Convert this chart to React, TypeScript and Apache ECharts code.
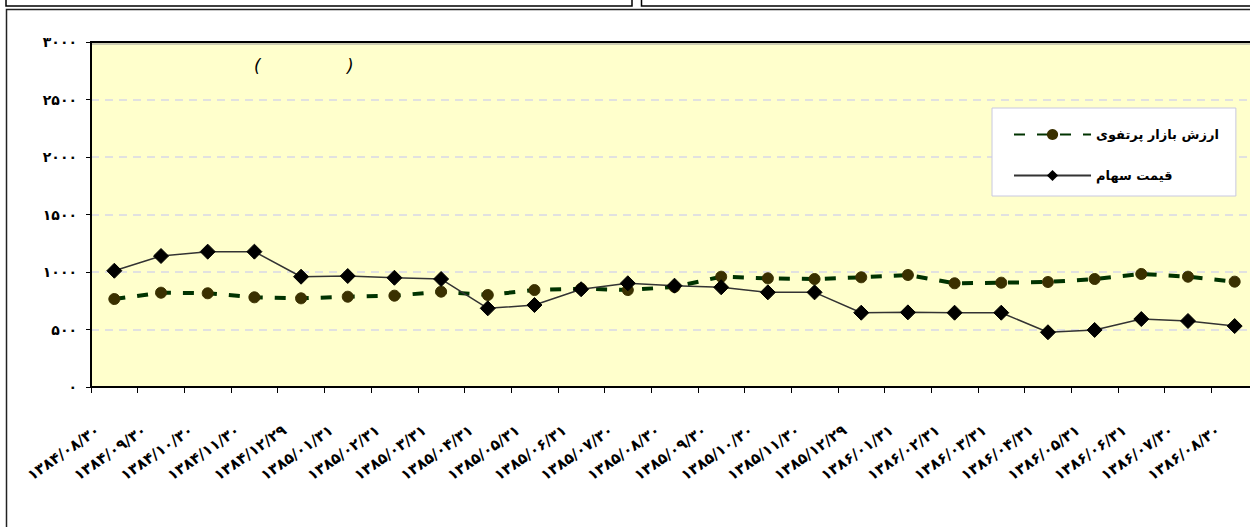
import React, { useEffect, useRef } from "react";
import * as echarts from "echarts";

const categories = [
  "۱۳۸۴/۰۸/۳۰", "۱۳۸۴/۰۹/۳۰", "۱۳۸۴/۱۰/۳۰", "۱۳۸۴/۱۱/۳۰", "۱۳۸۴/۱۲/۲۹",
  "۱۳۸۵/۰۱/۳۱", "۱۳۸۵/۰۲/۳۱", "۱۳۸۵/۰۳/۳۱", "۱۳۸۵/۰۴/۳۱", "۱۳۸۵/۰۵/۳۱",
  "۱۳۸۵/۰۶/۳۱", "۱۳۸۵/۰۷/۳۰", "۱۳۸۵/۰۸/۳۰", "۱۳۸۵/۰۹/۳۰", "۱۳۸۵/۱۰/۳۰",
  "۱۳۸۵/۱۱/۳۰", "۱۳۸۵/۱۲/۲۹", "۱۳۸۶/۰۱/۳۱", "۱۳۸۶/۰۲/۳۱", "۱۳۸۶/۰۳/۳۱",
  "۱۳۸۶/۰۴/۳۱", "۱۳۸۶/۰۵/۳۱", "۱۳۸۶/۰۶/۳۱", "۱۳۸۶/۰۷/۳۰", "۱۳۸۶/۰۸/۳۰",
];

const portfolioName = "ارزش بازار پرتفوی";
const priceName = "قیمت سهام";

const portfolioValues = [
  765, 820, 815, 780, 771, 785, 794, 829, 800, 843, 855, 843, 870,
  959, 945, 939, 954, 974, 902, 907, 913, 939, 983, 959, 916,
];

const priceValues = [
  1011, 1139, 1177, 1177, 959, 965, 950, 939, 684, 713, 850, 902, 881,
  867, 823, 823, 646, 649, 646, 646, 476, 496, 591, 574, 530,
];

const yMin = 0;
const yMax = 3000;
const yInterval = 500;

const faDigits = "۰۱۲۳۴۵۶۷۸۹";
const toFa = (s: string) => s.replace(/[0-9]/g, (d) => faDigits[Number(d)]);

export default function App() {
  const ref = useRef<HTMLDivElement>(null);

  useEffect(() => {
    if (!ref.current) return;
    const chart = echarts.init(ref.current, undefined, { renderer: "svg" });
    const font = "'DejaVu Sans', sans-serif";
    chart.setOption({
      animation: false,
      backgroundColor: "#ffffff",
      textStyle: { fontFamily: font },
      grid: {
        left: 91,
        top: 42,
        width: 1167,
        height: 345,
        outerBoundsMode: "none",
        show: false,
      },
      legend: {
        orient: "vertical",
        left: 992,
        top: 108,
        z: 20,
        padding: [20, 17, 14, 21],
        itemWidth: 77,
        itemHeight: 14,
        itemGap: 28,
        backgroundColor: "#ffffff",
        borderColor: "#c8c8e0",
        borderWidth: 1,
        textStyle: {
          fontFamily: font,
          fontWeight: "bold",
          fontSize: 13,
          color: "#000000",
        },
        data: [portfolioName, priceName],
      },
      xAxis: {
        type: "category",
        data: categories,
        boundaryGap: true,
        z: 5,
        axisLine: { lineStyle: { color: "#000000", width: 2 } },
        axisTick: { show: true, length: 6, lineStyle: { color: "#000000", width: 1 } },
        axisLabel: {
          interval: 0,
          rotate: 35,
          margin: 30,
          padding: [0, 20, 0, 0],
          fontFamily: font,
          fontWeight: "bold",
          fontSize: 15,
          color: "#000000",
        },
        splitLine: { show: false },
      },
      yAxis: {
        type: "value",
        min: yMin,
        max: yMax,
        interval: yInterval,
        z: 5,
        axisLine: { show: true, lineStyle: { color: "#000000", width: 2 } },
        axisTick: { show: true, length: 5, lineStyle: { color: "#000000" } },
        axisLabel: {
          margin: 14,
          fontFamily: font,
          fontWeight: "bold",
          fontSize: 14,
          color: "#000000",
          formatter: (v: number) => toFa(String(v)),
        },
        splitLine: {
          show: true,
          lineStyle: { color: "#d8d8e6", width: 1.5, type: [8, 6] },
        },
      },
      series: [
        {
          name: portfolioName,
          type: "line",
          data: portfolioValues,
          symbol: "circle",
          symbolSize: 11,
          itemStyle: { color: "#3a3000", borderColor: "#3a3000" },
          lineStyle: { color: "#003300", width: 4, type: [11, 12] },
          z: 8,
        },
        {
          name: priceName,
          type: "line",
          data: priceValues,
          symbol: "diamond",
          symbolSize: 15,
          itemStyle: { color: "#000000", borderColor: "#000000" },
          lineStyle: { color: "#333333", width: 1.5, type: "solid" },
          z: 9,
        },
      ],
      graphic: [
        {
          type: "rect",
          silent: true,
          z: -10,
          shape: { x: 91, y: 42, width: 1220, height: 345 },
          style: { fill: "#ffffcc" },
        },
        {
          type: "line",
          silent: true,
          z: 10,
          shape: { x1: 90, y1: 42, x2: 1320, y2: 42 },
          style: { stroke: "#000000", lineWidth: 2 },
        },
        {
          type: "line",
          silent: true,
          z: 10,
          shape: { x1: 92, y1: 44, x2: 1320, y2: 44 },
          style: { stroke: "#9a9a9a", lineWidth: 1 },
        },
        {
          type: "rect",
          silent: true,
          shape: { x: 6, y: -10, width: 626, height: 16 },
          style: { fill: "none", stroke: "#000000", lineWidth: 1.5 },
        },
        {
          type: "rect",
          silent: true,
          shape: { x: 641.5, y: -10, width: 700, height: 16 },
          style: { fill: "none", stroke: "#000000", lineWidth: 1.5 },
        },
        {
          type: "rect",
          silent: true,
          shape: { x: 6.5, y: 9.5, width: 1320, height: 600 },
          style: { fill: "none", stroke: "#222222", lineWidth: 1.5 },
        },
        {
          type: "text",
          silent: true,
          x: 254,
          y: 57,
          style: { text: "(", font: "italic 17px 'DejaVu Sans', sans-serif", fill: "#000000" },
        },
        {
          type: "text",
          silent: true,
          x: 347,
          y: 57,
          style: { text: ")", font: "italic 17px 'DejaVu Sans', sans-serif", fill: "#000000" },
        },
      ],
    });
    return () => chart.dispose();
  }, []);

  return (
    <div
      style={{
        position: "absolute",
        left: 0,
        top: 0,
        width: 1250,
        height: 527,
        overflow: "hidden",
        background: "#ffffff",
      }}
    >
      <div ref={ref} style={{ width: 1300, height: 527 }} />
    </div>
  );
}
